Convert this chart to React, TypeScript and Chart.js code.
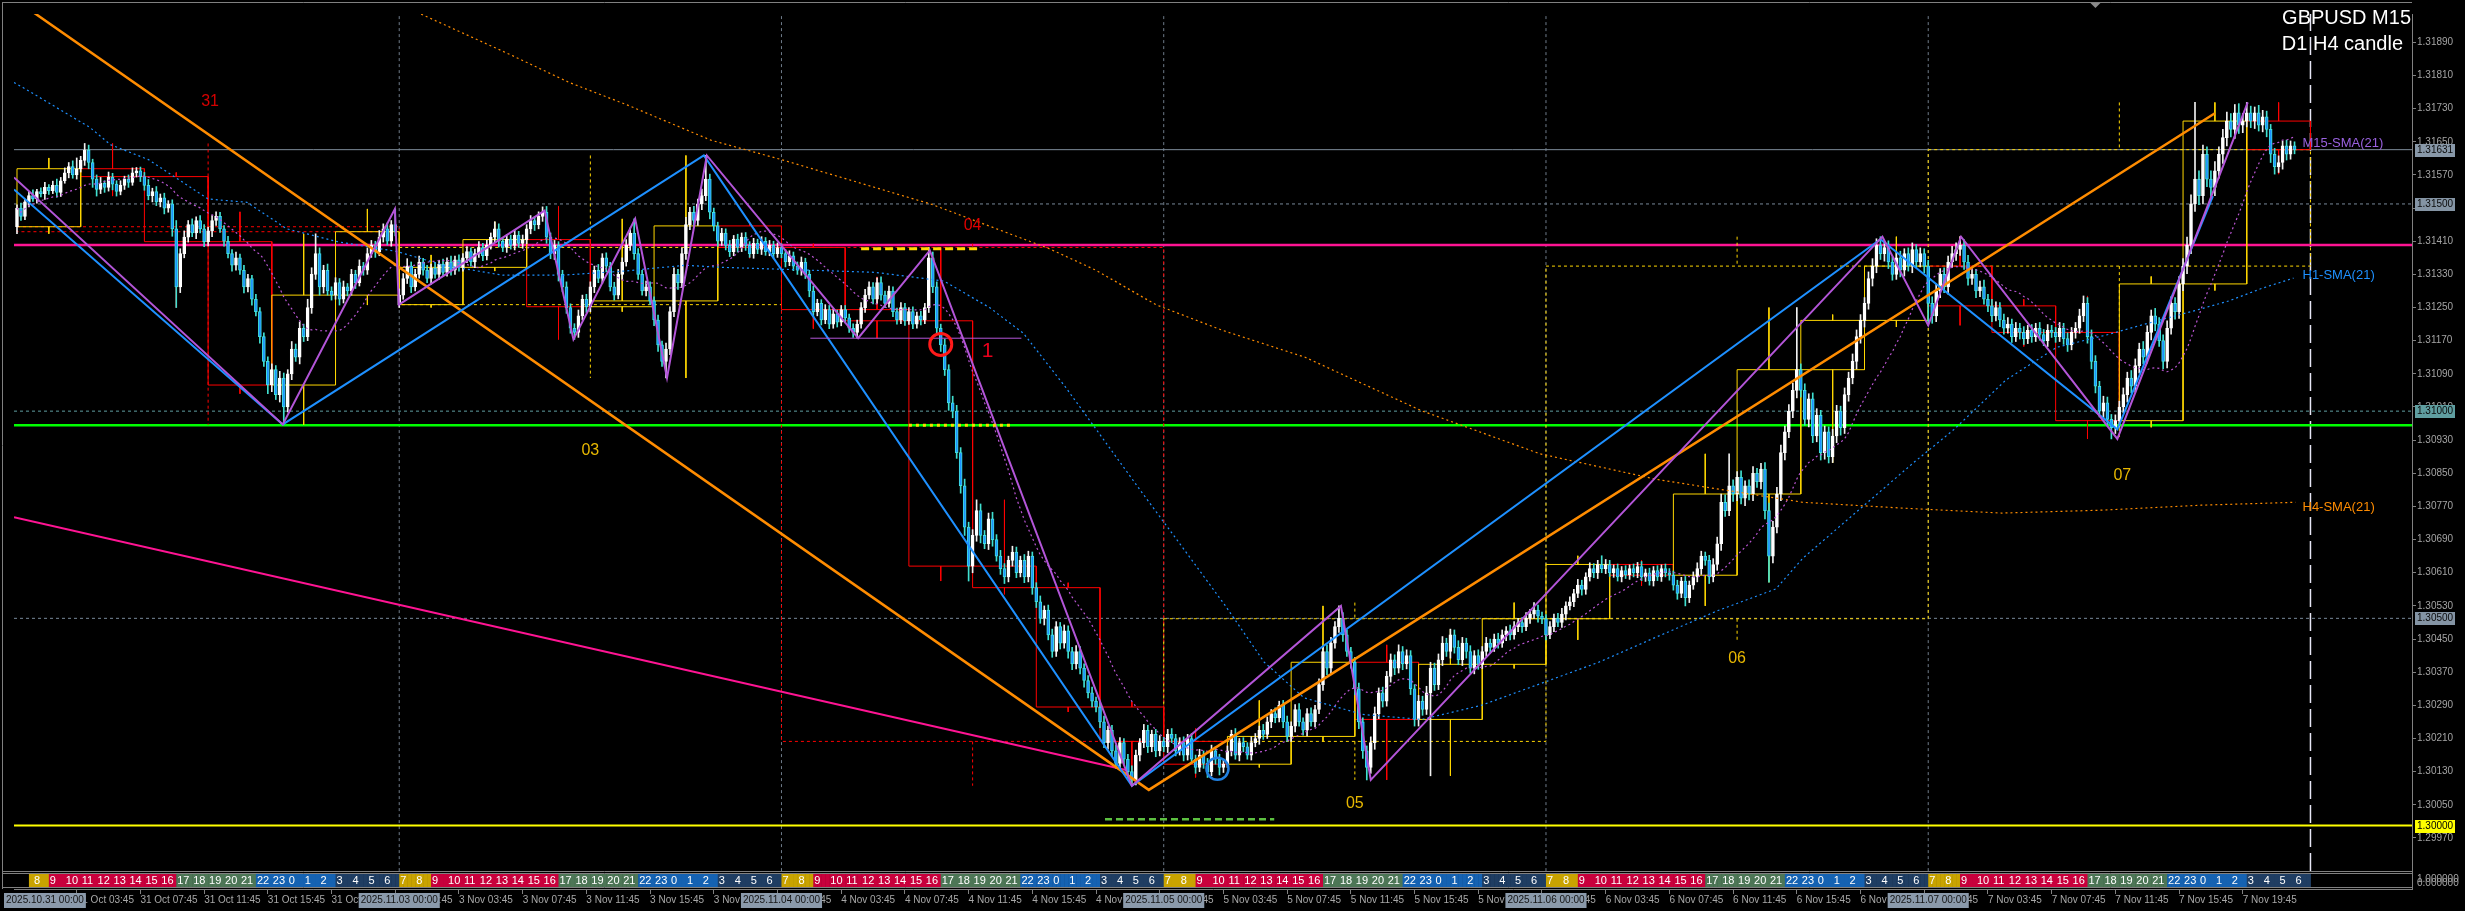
import React, { useEffect, useRef } from 'react';
import { Chart, registerables } from 'chart.js';
Chart.register(...registerables);

// prices are stored as points above 1.30000 (1 point = 0.00001)
const BASE = 1.3;

// M15 closes, one per bar, 31 Oct 00:00 .. 7 Nov
const closes = [
  1490,1470,1505,1520,1512,1530,1525,1540,1532,1545,1528,1556,1575,1590,1570,1585,
  1605,1630,1600,1560,1535,1550,1540,1565,1548,1530,1545,1560,1552,1575,1580,1566,
  1545,1520,1530,1505,1515,1490,1500,1440,1300,1380,1420,1450,1430,1460,1440,1409,
  1435,1460,1470,1440,1410,1380,1352,1370,1340,1300,1320,1270,1240,1180,1120,1063,
  1100,1040,1080,1010,1090,1150,1130,1200,1180,1250,1330,1380,1300,1340,1290,1280,
  1310,1270,1300,1290,1330,1310,1350,1340,1380,1400,1385,1420,1440,1410,1450,1433,
  1280,1320,1350,1300,1330,1360,1340,1320,1345,1330,1355,1335,1360,1340,1365,1347,
  1370,1385,1360,1380,1395,1375,1400,1420,1440,1410,1395,1415,1400,1425,1405,1414,
  1440,1460,1450,1470,1480,1420,1380,1400,1330,1300,1250,1200,1190,1230,1270,1252,
  1300,1340,1320,1370,1350,1300,1280,1330,1360,1400,1430,1380,1330,1290,1300,1266,
  1220,1160,1120,1150,1240,1330,1310,1380,1450,1480,1460,1500,1520,1560,1480,1447,
  1410,1430,1400,1385,1415,1395,1420,1400,1380,1405,1390,1410,1385,1400,1380,1395,
  1380,1360,1375,1350,1340,1360,1330,1290,1240,1260,1220,1245,1210,1235,1215,1245,
  1225,1200,1190,1210,1250,1280,1300,1270,1310,1280,1260,1290,1240,1220,1250,1218,
  1240,1210,1230,1220,1250,1370,1300,1200,1160,1100,1020,1000,900,820,720,626,
  700,760,700,680,740,690,650,620,600,640,660,610,640,600,650,574,
  540,500,520,460,420,480,440,470,420,390,420,380,350,320,300,286,
  250,200,230,180,150,200,160,130,110,170,200,230,190,220,180,203,
  190,220,210,180,200,170,210,160,140,170,150,130,180,160,140,148,
  180,220,170,200,190,170,200,210,230,220,250,270,260,290,250,215,
  240,280,250,230,270,250,280,340,420,380,440,480,500,460,420,394,
  330,250,180,140,200,270,320,300,360,400,380,420,390,410,330,256,
  300,280,320,380,340,400,440,420,460,430,400,440,420,380,410,389,
  420,440,430,450,440,460,470,460,480,490,480,500,510,520,505,499,
  460,480,500,490,510,530,540,560,580,570,600,620,610,630,620,630,
  610,620,600,615,605,620,610,625,600,610,590,615,600,620,610,604,
  580,560,590,550,580,600,620,650,640,600,630,680,780,760,820,800,
  840,790,820,800,850,830,860,760,650,720,800,900,950,1000,1050,1100,
  1050,980,1030,940,990,900,950,890,940,1000,960,1040,1080,1120,1180,1219,
  1260,1320,1350,1400,1380,1395,1360,1330,1370,1340,1380,1350,1390,1360,1380,1350,
  1260,1230,1290,1330,1300,1360,1380,1390,1400,1360,1320,1330,1290,1300,1270,1254,
  1230,1250,1220,1200,1210,1180,1200,1190,1175,1195,1180,1200,1185,1170,1195,1190,
  1180,1200,1175,1160,1190,1200,1230,1260,1180,1120,1060,1000,1020,980,960,977,
  1010,1040,1080,1060,1110,1150,1130,1190,1230,1210,1170,1120,1200,1260,1240,1307,
  1350,1400,1500,1560,1520,1620,1560,1540,1580,1620,1660,1700,1680,1720,1690,1700,
  1720,1700,1720,1690,1710,1680,1620,1590,1600,1640,1620,1640,1631,
];

// upper wick above the body, points
const upWick = [
  8,12,6,10,14,5,9,12,7,10,15,8,12,10,14,26,
  10,16,12,8,10,14,6,12,9,8,11,7,10,12,8,9,
  10,14,8,12,9,11,8,10,20,12,15,10,14,9,12,10,
  9,12,11,10,8,12,10,14,9,12,10,8,12,10,9,11,
  14,10,16,12,10,18,12,15,10,20,16,48,14,12,15,10,
  12,10,14,8,12,10,15,9,14,12,10,16,12,14,10,38,
  15,12,18,10,12,14,9,12,10,14,9,12,10,14,9,12,
  10,12,9,11,14,10,12,10,17,12,9,11,10,12,9,11,
  10,12,9,11,13,14,10,12,9,10,12,9,11,14,10,12,
  12,10,14,10,12,9,11,12,10,14,12,34,12,10,14,12,
  10,12,9,14,12,16,12,14,18,12,14,12,16,57,12,10,
  9,11,10,12,9,12,10,11,9,12,10,11,9,12,10,11,
  9,10,12,9,10,12,9,10,12,10,9,12,10,11,9,10,
  10,9,11,10,12,14,12,10,12,14,10,12,10,9,12,10,
  10,12,9,11,10,25,14,12,10,14,12,16,14,12,16,12,
  14,26,16,12,14,16,12,14,12,10,14,12,10,14,12,10,
  12,14,10,12,14,12,10,14,12,10,14,12,10,12,14,10,
  12,14,10,12,14,12,10,12,14,12,10,14,12,10,12,14,
  10,12,14,10,12,14,10,12,10,14,10,12,14,10,12,10,
  12,10,14,10,12,10,14,12,10,14,12,10,14,10,12,14,
  10,12,14,10,12,14,10,14,12,16,14,12,30,14,12,10,
  12,14,10,12,14,16,12,14,12,14,12,16,12,14,12,10,
  14,12,16,14,12,14,16,12,14,12,16,14,12,14,12,14,
  12,14,10,12,14,12,10,14,12,10,12,14,12,18,12,10,
  10,12,10,12,14,10,12,10,14,12,10,14,12,10,21,12,
  10,9,11,10,12,9,11,10,12,9,11,10,12,9,11,10,
  10,12,9,11,10,12,14,12,10,12,14,16,20,18,77,14,
  14,16,12,14,16,12,14,16,18,14,16,18,14,16,18,150,
  14,16,12,14,16,12,14,12,16,14,12,16,14,18,16,14,
  14,16,18,16,21,14,16,12,14,16,12,14,16,12,14,12,
  14,16,18,14,16,14,18,16,21,14,16,14,12,14,16,12,
  16,14,12,14,16,12,14,12,14,12,14,12,14,12,14,12,
  12,14,12,14,12,14,16,18,14,16,14,12,16,14,12,14,
  14,16,14,18,16,14,18,16,14,18,16,14,18,16,14,18,
  18,20,22,185,20,22,18,20,22,18,20,22,18,20,22,18,
  25,16,14,18,16,14,12,14,16,12,14,12,10,
];

// lower wick below the body, points
const downWick = [
  17,10,8,12,6,10,8,14,9,7,12,10,6,12,8,10,
  8,12,15,20,16,10,12,9,14,11,8,10,12,7,10,12,
  12,10,15,9,12,14,10,18,50,14,10,12,9,14,10,12,
  10,14,12,9,12,10,14,12,10,15,12,14,10,16,12,21,
  16,12,18,43,12,14,10,16,12,10,14,12,20,15,10,12,
  10,14,9,12,10,14,8,12,10,9,14,10,12,9,12,10,
  7,10,12,14,10,9,12,10,14,9,12,10,9,12,10,9,
  9,12,10,14,9,12,10,9,12,14,10,12,9,11,10,12,
  10,12,14,10,12,15,12,14,16,12,14,12,17,12,10,14,
  12,14,10,12,14,10,12,9,12,10,12,14,12,10,12,9,
  14,16,12,40,14,12,16,12,14,12,16,12,14,12,16,12,
  12,10,11,12,10,11,10,12,9,11,10,12,9,10,11,9,
  10,12,9,11,10,12,10,14,12,10,12,9,11,10,12,9,
  12,10,12,14,10,12,9,11,10,12,10,9,12,10,9,11,
  9,11,10,12,9,12,14,12,16,14,18,16,14,18,20,36,
  16,14,18,12,14,16,12,14,16,12,14,12,10,14,12,16,
  14,12,16,12,14,12,14,12,16,14,12,14,16,12,14,12,
  14,12,16,14,12,14,12,16,14,12,14,12,14,12,14,12,
  12,14,10,12,10,14,12,10,14,10,12,14,10,12,18,12,
  8,12,10,14,12,10,12,10,14,12,10,14,12,10,14,12,
  12,14,10,12,14,10,12,10,14,16,14,12,14,16,12,14,
  14,16,18,30,14,16,12,14,12,14,16,12,14,12,14,16,
  16,14,12,200,14,12,14,12,16,14,12,14,16,12,14,12,
  10,12,14,10,12,10,14,12,10,12,14,10,12,10,14,12,
  12,9,12,10,12,14,10,12,10,14,12,10,12,14,10,12,
  9,11,10,12,9,11,10,12,9,11,10,12,9,11,10,12,
  12,14,10,20,12,10,12,14,12,16,12,14,16,14,12,18,
  16,14,18,14,16,14,18,20,63,16,14,16,18,14,16,18,
  16,14,18,16,14,18,16,15,14,16,18,14,16,14,18,16,
  16,14,18,16,14,18,16,14,12,16,14,12,16,14,12,16,
  53,18,14,16,14,18,14,16,14,18,16,14,16,14,12,14,
  14,12,16,14,12,14,12,16,14,12,14,12,14,12,14,12,
  14,12,14,16,12,14,12,14,16,18,16,14,16,14,27,14,
  16,14,18,16,14,18,16,14,18,16,14,18,16,14,18,16,
  16,18,20,18,22,20,18,22,20,18,22,20,18,22,20,18,
  14,16,18,14,16,18,20,18,14,16,14,12,10,
];

// opens that are not the previous close (first bar, Monday gap)
const openOverride: Record<number, number> = { 0: 1445, 96: 1257 };

// hand-read indicator lines: bar index / points
const h1SmaX = [-0.75,1.5,18.25,23.5,33,48,57.75,67.75,80.5,95.5,107.25,122,136.75,152.5,167.75,177.25,215.5,232.75,244.25,252.75,263.25,273,282.5,293.5,303.5,313.25,323.25,338,352.75,367.75,382.5,397.25,412,427,441.75,448.5,476.25,486.5,499.5,512.25,525.25,534,546.75,555.5,564,571.75];
const h1SmaV = [1793,1781,1685,1643,1607,1512,1504,1440,1409,1385,1352,1328,1328,1338,1352,1347,1335,1314,1250,1188,1059,930,804,661,530,394,308,268,256,290,342,394,456,518,571,645,875,956,1075,1154,1185,1209,1242,1266,1297,1321];
const h4SmaX = [93.5,123.5,138.75,153.5,174.25,192,229.75,259.25,271,286,302.75,323.5,352.75,382.5,412,448.5,473.5,498.5,523.5,548.5,572.25];
const h4SmaV = [1993,1862,1793,1738,1654,1607,1499,1392,1340,1257,1195,1130,1001,897,835,780,766,754,761,773,780];

const blueZigX = [-0.75, 66.75, 172.5, 280, 468, 527.5, 551.5];
const blueZigV = [1535, 968, 1617, 96, 1415, 956, 1519];
const purpleZigX = [-0.75, 66.75, 94.9, 95.9, 132.5, 139.75, 155.25, 163.25, 173.25, 211.25, 229.25, 280, 332.5, 340, 468.5, 480, 488.25, 527.5, 560.25];
const purpleZigV = [1564, 968, 1488, 1257, 1484, 1173, 1464, 1080, 1617, 1176, 1388, 96, 530, 110, 1421, 1207, 1421, 933, 1745];
const orangeZigX = [0, 284.25, 552];
const orangeZigV = [1990, 86, 1719];
const pinkTrendX = [-0.75, 278.5];
const pinkTrendV = [744, 134];

// horizontal levels (points)
const levelPink = 1401;
const levelGreen = 966;
const levelYellow = 0;
const levelBid = 1631;
const roundLevels = [1500, 1000, 500];

const priceTicks = [1.31890,1.31810,1.31730,1.31650,1.31570,1.31490,1.31410,1.31330,1.31250,1.31170,1.31090,1.31010,1.30930,1.30850,1.30770,1.30690,1.30610,1.30530,1.30450,1.30370,1.30290,1.30210,1.30130,1.30050,1.29970];
const dayNames = ['31 Oct', '3 Nov', '4 Nov', '5 Nov', '6 Nov', '7 Nov'];
const dayStamps = ['2025.10.31 00:00', '2025.11.03 00:00', '2025.11.04 00:00', '2025.11.05 00:00', '2025.11.06 00:00', '2025.11.07 00:00'];

const sessionColors = ['#c9a300', '#c8003c', '#4d7656', '#1562b2', '#1f3d62'];
const hourSession = [3,3,3,4,4,4,4,0,0,1,1,1,1,1,1,1,1,2,2,2,2,2,3,3];

const dayLabels = [
  { i: 48.5, v: 1748, t: '31', c: '#d40000', s: 16 },
  { i: 144, v: 904, t: '03', c: '#e8b800', s: 16 },
  { i: 240, v: 1447, t: '04', c: '#e00000', s: 16 },
  { i: 243.75, v: 1145, t: '1', c: '#e8001c', s: 21 },
  { i: 336, v: 53, t: '05', c: '#e8b800', s: 16 },
  { i: 432, v: 403, t: '06', c: '#e8b800', s: 16 },
  { i: 528.75, v: 844, t: '07', c: '#e8b800', s: 16 },
];

const BARS_PER_DAY = 96;
const SHIFT_MARK_BAR = 522;
const X_MIN = -0.75;
const X_MAX = 601.5;
const Y_MAX = 1.319584;
const Y_MIN = 1.298468;
const PANEL_BOTTOM = 1.2989;
const FONT = 'Liberation Sans';

const P = (v: number) => BASE + v / 100000;

export default function App() {
  const ref = useRef<HTMLCanvasElement>(null);

  useEffect(() => {
    document.body.style.margin = '0';
    document.body.style.background = '#000';
    const N = closes.length;
    const opens = closes.map((c, i) => (openOverride[i] !== undefined ? openOverride[i] : i > 0 ? closes[i - 1] : c));
    const highs = closes.map((c, i) => Math.max(opens[i], c) + upWick[i]);
    const lows = closes.map((c, i) => Math.min(opens[i], c) - downWick[i]);

    const pts = (xs: number[], vs: number[]) => xs.map((x, k) => ({ x, y: P(vs[k]) }));

    const groups = (len: number) => {
      const out: any[] = [];
      for (let s = 0; s < N; s += len) {
        const e = Math.min(N, s + len);
        let h = -Infinity, l = Infinity;
        for (let k = s; k < e; k++) { h = Math.max(h, highs[k]); l = Math.min(l, lows[k]); }
        out.push({ s, len, o: opens[s], c: closes[e - 1], h, l });
      }
      return out;
    };
    const boxPts = (gs: any[], bull: boolean) => {
      const out: any[] = [];
      gs.filter(g => (g.c >= g.o) === bull).forEach(g => {
        const x0 = g.s, x1 = g.s + g.len, xm = g.s + g.len / 2;
        const top = P(Math.max(g.o, g.c)), bot = P(Math.min(g.o, g.c));
        out.push({ x: x0, y: top }, { x: x1, y: top }, { x: x1, y: bot }, { x: x0, y: bot }, { x: x0, y: top }, { x: x0, y: null });
        out.push({ x: xm, y: P(g.h) }, { x: xm, y: top }, { x: xm, y: null });
        out.push({ x: xm, y: bot }, { x: xm, y: P(g.l) }, { x: xm, y: null });
      });
      return out;
    };
    const h4 = groups(16);
    const d1 = groups(BARS_PER_DAY);

    const sma: any[] = closes.map((_, i) => {
      const s = Math.max(0, i - 20);
      let sum = 0;
      for (let k = s; k <= i; k++) sum += closes[k];
      return { x: i, y: P(sum / (i - s + 1)) };
    });

    const line = (data: any[], color: string, width: number, dash: number[], order: number) => ({
      type: 'line', data, borderColor: color, borderWidth: width, borderDash: dash,
      pointRadius: 0, pointHoverRadius: 0, fill: false, tension: 0, spanGaps: false, order,
    });
    const hline = (v: number, color: string, width: number, dash: number[], order: number) =>
      line([{ x: X_MIN, y: P(v) }, { x: X_MAX, y: P(v) }], color, width, dash, order);

    const sepPts: any[] = [];
    for (let d = 1; d < 6; d++) {
      sepPts.push({ x: d * BARS_PER_DAY, y: PANEL_BOTTOM }, { x: d * BARS_PER_DAY, y: Y_MAX }, { x: d * BARS_PER_DAY, y: null });
    }
    const futureSep = [{ x: 6 * BARS_PER_DAY, y: PANEL_BOTTOM }, { x: 6 * BARS_PER_DAY, y: Y_MAX }];

    const bull = closes.map((c, i) => c >= opens[i]);
    const wickData = closes.map((_, i) => ({ x: i, y: [P(lows[i]), P(highs[i])] }));
    const bodyData = closes.map((c, i) => ({ x: i, y: [P(opens[i]), P(c)] }));

    const datasets: any[] = [
      line(sepPts, '#6f7c8a', 1, [3, 3], 100),
      line(futureSep, '#e6e6f5', 1.5, [18, 6], 100),
      ...roundLevels.map((v, k) => hline(v, k === 1 ? '#5f9ea0' : '#778899', 1, [3, 3], 99)),
      hline(levelBid, '#7d8b99', 1, [], 98),
      hline(levelPink, '#ff1493', 2.5, [], 97),
      hline(levelGreen, '#00ff00', 2.5, [], 97),
      hline(levelYellow, '#ffff00', 2, [], 97),
      line(boxPts(d1, true), '#ffd700', 1, [3, 3], 90),
      line(boxPts(d1, false), '#ff0000', 1, [3, 3], 90),
      line(boxPts(h4, true), '#ffd700', 1, [], 80),
      line(boxPts(h4, false), '#ff0000', 1, [], 80),
      {
        type: 'bar', data: wickData, backgroundColor: bull.map(b => (b ? '#f0f0f0' : '#40e0d0')),
        barThickness: 1, grouped: false, borderWidth: 0, minBarLength: 1, order: 61,
      },
      {
        type: 'bar', data: bodyData, backgroundColor: bull.map(b => (b ? '#ffffff' : '#1e90ff')),
        borderColor: bull.map(b => (b ? '#ffffff' : '#40e0e0')), borderWidth: 1, borderSkipped: false,
        barThickness: 3, grouped: false, minBarLength: 1, order: 60,
      },
      line(pts(h4SmaX, h4SmaV), '#ff8c00', 1.2, [2, 3], 40),
      line(pts(h1SmaX, h1SmaV), '#1e90ff', 1.2, [2, 3], 40),
      line(sma, '#ba55d3', 1.2, [2, 3], 40),
      line(pts(pinkTrendX, pinkTrendV), '#ff1493', 2, [], 22),
      line(pts(orangeZigX, orangeZigV), '#ff8c00', 2.5, [], 21),
      line(pts(blueZigX, blueZigV), '#1e90ff', 2, [], 20),
      line(pts(purpleZigX, purpleZigV), '#b355d8', 2, [], 19),
      line([{ x: 199.25, y: P(1176) }, { x: 252.25, y: P(1176) }], '#b355d8', 1, [], 18),
      line([{ x: 212, y: P(1392) }, { x: 241.25, y: P(1392) }], '#ffd700', 3, [8, 4], 15),
      line([{ x: 224, y: P(966) }, { x: 249.75, y: P(966) }], '#ffd700', 3, [3, 4], 15),
      line([{ x: 273.25, y: P(15) }, { x: 315.75, y: P(15) }], '#5cc040', 2.5, [7, 4], 15),
      {
        type: 'line', data: [{ x: 232, y: P(1161) }], showLine: false, pointRadius: 11, pointBorderWidth: 3,
        pointBackgroundColor: 'rgba(0,0,0,0)', pointBorderColor: '#ff1a1a', order: 10,
      },
      {
        type: 'line', data: [{ x: 301.5, y: P(137) }], showLine: false, pointRadius: 11, pointBorderWidth: 2.5,
        pointBackgroundColor: 'rgba(0,0,0,0)', pointBorderColor: '#2080e0', order: 10,
      },
    ];

    const timeTicks: number[] = [];
    for (let i = 15; i <= 559; i += 16) timeTicks.push(i);
    const timeLabel = (i: number) => {
      const d = Math.floor(i / BARS_PER_DAY);
      const m = (i % BARS_PER_DAY) * 15;
      const hh = Math.floor(m / 60), mm = m % 60;
      return `${dayNames[d]} ${hh < 10 ? '0' : ''}${hh}:${mm < 10 ? '0' : ''}${mm}`;
    };

    const decor = {
      id: 'decor',
      beforeDraw(chart: any) {
        const { ctx, width, height } = chart;
        ctx.save();
        ctx.fillStyle = '#000';
        ctx.fillRect(0, 0, width, height);
        ctx.restore();
      },
      afterDatasetsDraw(chart: any) {
        const { ctx, chartArea: ca } = chart;
        const xs = chart.scales.x, ys = chart.scales.y;
        ctx.save();
        const pb = Math.round(ys.getPixelForValue(PANEL_BOTTOM));
        ctx.fillStyle = '#000';
        ctx.fillRect(ca.left - 1, pb, ca.right - ca.left + 1, ca.bottom - pb);
        const sTop = pb + 3, sBot = ca.bottom - 2;
        for (let i = 3; i < 6 * BARS_PER_DAY; i++) {
          const hour = (Math.floor((i % BARS_PER_DAY) / 4) + 7) % 24;
          ctx.fillStyle = sessionColors[hourSession[hour]];
          const x0 = xs.getPixelForValue(i), x1 = xs.getPixelForValue(i + 1);
          ctx.fillRect(x0, sTop, x1 - x0 + 0.5, sBot - sTop);
        }
        ctx.font = `11px "${FONT}"`;
        ctx.fillStyle = '#ffffff';
        ctx.textBaseline = 'middle';
        ctx.textAlign = 'left';
        for (let i = 4; i < 6 * BARS_PER_DAY; i += 4) {
          const hour = (Math.floor((i % BARS_PER_DAY) / 4) + 7) % 24;
          ctx.fillText(String(hour), xs.getPixelForValue(i) + 1, (sTop + sBot) / 2 + 0.5);
        }
        ctx.strokeStyle = '#808080';
        ctx.lineWidth = 1;
        ctx.beginPath();
        ctx.moveTo(2, 2.5); ctx.lineTo(ca.right, 2.5);
        ctx.moveTo(2.5, 2); ctx.lineTo(2.5, ca.bottom);
        ctx.moveTo(2, pb + 0.5); ctx.lineTo(ca.right, pb + 0.5);
        ctx.moveTo(2, pb + 2.5); ctx.lineTo(ca.right, pb + 2.5);
        ctx.moveTo(2, sBot + 0.5); ctx.lineTo(ca.right, sBot + 0.5);
        ctx.stroke();

        // chart shift marker
        const sx = xs.getPixelForValue(SHIFT_MARK_BAR);
        ctx.fillStyle = '#8a8a8a';
        ctx.beginPath();
        ctx.moveTo(sx - 5, 3); ctx.lineTo(sx + 5, 3); ctx.lineTo(sx, 8); ctx.closePath();
        ctx.fill();

        // labels on the chart
        ctx.textAlign = 'center';
        ctx.textBaseline = 'middle';
        dayLabels.forEach(a => {
          ctx.font = `${a.s}px "${FONT}"`;
          ctx.fillStyle = a.c;
          ctx.fillText(a.t, xs.getPixelForValue(a.i), ys.getPixelForValue(P(a.v)));
        });
        ctx.textAlign = 'left';
        ctx.font = `13px "${FONT}"`;
        const lx = xs.getPixelForValue(574);
        ctx.fillStyle = '#9a62e0';
        ctx.fillText('M15-SMA(21)', lx, ys.getPixelForValue(P(1647)));
        ctx.fillStyle = '#1e90ff';
        ctx.fillText('H1-SMA(21)', lx, ys.getPixelForValue(P(1328)));
        ctx.fillStyle = '#ff8c00';
        ctx.fillText('H4-SMA(21)', lx, ys.getPixelForValue(P(768)));

        ctx.textAlign = 'right';
        ctx.textBaseline = 'alphabetic';
        ctx.fillStyle = '#ffffff';
        ctx.font = `20px "${FONT}"`;
        ctx.fillText('GBPUSD M15', ca.right - 1, 24);
        ctx.fillText('D1 H4 candle', ca.right - 9, 50);
        ctx.restore();
      },
      afterDraw(chart: any) {
        const { ctx, chartArea: ca } = chart;
        const xs = chart.scales.x, ys = chart.scales.y;
        ctx.save();
        ctx.font = `10px "${FONT}"`;
        ctx.textBaseline = 'middle';
        // price boxes
        const boxes = [
          { v: levelBid, bg: '#8898a8', fg: '#0a0a0a' },
          { v: 1500, bg: '#8494a4', fg: '#0a0a0a' },
          { v: 1000, bg: '#5f9ea0', fg: '#0a0a0a' },
          { v: 500, bg: '#8494a4', fg: '#0a0a0a' },
          { v: levelYellow, bg: '#ffff00', fg: '#000000' },
        ];
        boxes.forEach(b => {
          const y = Math.round(ys.getPixelForValue(P(b.v)));
          ctx.fillStyle = b.bg;
          ctx.fillRect(ca.right + 3, y - 6, 40, 13);
          ctx.fillStyle = b.fg;
          ctx.textAlign = 'left';
          ctx.fillText(P(b.v).toFixed(5), ca.right + 5, y + 0.5);
        });
        // strip axis labels
        const pb = Math.round(ys.getPixelForValue(PANEL_BOTTOM));
        ctx.fillStyle = '#a4a4a4';
        ctx.fillText('1.000000', ca.right + 5, pb + 8);
        ctx.fillText('0.000000', ca.right + 5, pb + 12);
        // day stamps on time axis
        dayStamps.forEach((t, d) => {
          const w = ctx.measureText(t).width + 4;
          const x = xs.getPixelForValue(d * BARS_PER_DAY);
          const left = d === 0 ? 4 : x - w / 2;
          ctx.fillStyle = '#8b9aab';
          ctx.fillRect(left, ca.bottom + 4, w, 15);
          ctx.fillStyle = '#141414';
          ctx.textAlign = 'left';
          ctx.fillText(t, left + 2, ca.bottom + 11.5);
        });
        ctx.restore();
      },
    };

    Chart.defaults.font.family = FONT;
    const chart = new Chart(ref.current as HTMLCanvasElement, {
      type: 'line',
      data: { datasets },
      options: {
        animation: false,
        responsive: false,
        devicePixelRatio: 1,
        events: [],
        layout: { padding: { left: 3, top: 3, right: 0, bottom: 0 } },
        plugins: { legend: { display: false }, tooltip: { enabled: false } },
        scales: {
          x: {
            type: 'linear', min: X_MIN, max: X_MAX, offset: false,
            afterBuildTicks: (s: any) => { s.ticks = timeTicks.map(value => ({ value })); },
            afterFit: (s: any) => { s.height = 22; },
            ticks: {
              align: 'start', autoSkip: false, maxRotation: 0, padding: 0, color: '#a8a8a8',
              font: { size: 10, family: FONT },
              callback: (v: any) => timeLabel(Math.round(Number(v))),
            },
            grid: { drawOnChartArea: false, tickLength: 5, color: '#808080', offset: false },
            border: { color: '#808080' },
          },
          y: {
            type: 'linear', position: 'right', min: Y_MIN, max: Y_MAX,
            afterBuildTicks: (s: any) => { s.ticks = priceTicks.map(value => ({ value })); },
            afterFit: (s: any) => { s.width = 53; },
            ticks: {
              autoSkip: false, padding: 1, color: '#a4a4a4', font: { size: 10, family: FONT },
              callback: (v: any) => Number(v).toFixed(5),
            },
            grid: { drawOnChartArea: false, tickLength: 4, color: '#808080' },
            border: { color: '#808080' },
          },
        },
      } as any,
      plugins: [decor as any],
    } as any);
    return () => chart.destroy();
  }, []);

  return (
    <div style={{ width: 2465, height: 911, background: '#000' }}>
      <canvas ref={ref} width={2465} height={911} style={{ display: 'block', width: 2465, height: 911 }} />
    </div>
  );
}
